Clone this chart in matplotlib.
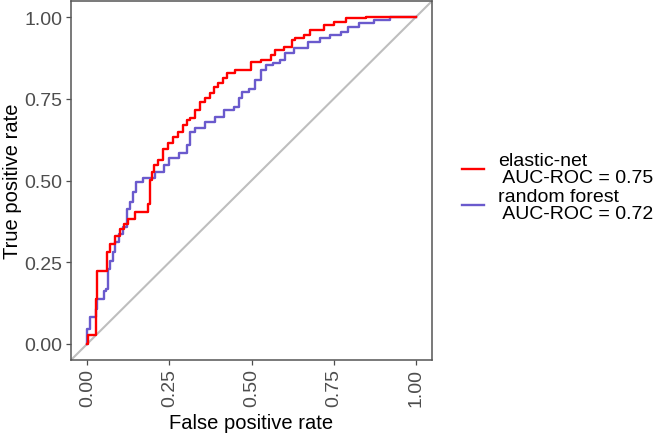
import matplotlib
matplotlib.use("Agg")
import matplotlib.pyplot as plt

plt.rcParams['font.family'] = ['Liberation Sans', 'DejaVu Sans']

# ROC curve vertices
fpr_enet = [0.000, 0.003, 0.024, 0.027, 0.030, 0.058, 0.061, 0.076, 0.091, 0.107,
            0.116, 0.131, 0.162, 0.177, 0.192, 0.192, 0.201, 0.207, 0.223, 0.238,
            0.253, 0.268, 0.284, 0.299, 0.305, 0.320, 0.335, 0.351, 0.366, 0.381,
            0.390, 0.405, 0.421, 0.427, 0.442, 0.457, 0.491, 0.503, 0.552, 0.564,
            0.579, 0.619, 0.625, 0.643, 0.674, 0.680, 0.710, 0.732, 0.771, 0.802,
            0.893, 1.000]
tpr_enet = [0.000, 0.027, 0.027, 0.137, 0.223, 0.223, 0.280, 0.305, 0.329, 0.351,
            0.366, 0.381, 0.402, 0.405, 0.427, 0.503, 0.527, 0.549, 0.564, 0.595,
            0.616, 0.634, 0.649, 0.671, 0.686, 0.692, 0.716, 0.741, 0.753, 0.768,
            0.787, 0.799, 0.814, 0.829, 0.829, 0.838, 0.838, 0.863, 0.869, 0.884,
            0.899, 0.909, 0.930, 0.936, 0.945, 0.960, 0.960, 0.976, 0.985, 0.997,
            1.000, 1.000]

fpr_rf = [0.000, 0.000, 0.006, 0.009, 0.024, 0.027, 0.034, 0.046, 0.055, 0.061,
          0.064, 0.076, 0.079, 0.091, 0.101, 0.116, 0.125, 0.137, 0.140, 0.155,
          0.183, 0.229, 0.238, 0.262, 0.299, 0.308, 0.320, 0.335, 0.381, 0.399,
          0.436, 0.457, 0.466, 0.476, 0.506, 0.518, 0.537, 0.552, 0.579, 0.595,
          0.610, 0.649, 0.695, 0.720, 0.756, 0.787, 0.802, 0.854, 0.893, 0.954,
          1.000]
tpr_rf = [0.000, 0.046, 0.046, 0.082, 0.082, 0.107, 0.137, 0.137, 0.162, 0.168,
          0.229, 0.253, 0.280, 0.311, 0.335, 0.357, 0.412, 0.433, 0.466, 0.494,
          0.509, 0.527, 0.549, 0.570, 0.585, 0.610, 0.649, 0.662, 0.680, 0.695,
          0.716, 0.726, 0.753, 0.771, 0.780, 0.808, 0.838, 0.854, 0.860, 0.869,
          0.890, 0.905, 0.924, 0.936, 0.945, 0.954, 0.970, 0.982, 0.991, 1.000,
          1.000]

labels = ["elastic-net\n AUC-ROC = 0.75", "random forest\n AUC-ROC = 0.72"]
ticks = [0.00, 0.25, 0.50, 0.75, 1.00]
tick_labels = ["0.00", "0.25", "0.50", "0.75", "1.00"]

fig = plt.figure(figsize=(6.56, 4.35), dpi=100)
ax = fig.add_axes([71 / 656, 1 - 361 / 435, 361 / 656, 359 / 435])

# reference diagonal
ax.axline((0, 0), slope=1, color='#bebebe', lw=1.5, zorder=1)

ax.plot(fpr_enet, tpr_enet, drawstyle='steps-mid', color='#ff0000', lw=1.7,
        label=labels[0], zorder=3)
ax.plot(fpr_rf, tpr_rf, drawstyle='steps-mid', color='#6a5acd', lw=1.7,
        label=labels[1], zorder=2)

ax.set_xlim(-0.05, 1.05)
ax.set_ylim(-0.05, 1.05)
ax.set_xticks(ticks)
ax.set_xticklabels(tick_labels, rotation=90)
ax.set_yticks(ticks)
ax.set_yticklabels(tick_labels)
ax.tick_params(length=3.6, width=0.9, color='#4d4d4d', labelcolor='#4d4d4d',
               labelsize=14, pad=2.5)

for s in ax.spines.values():
    s.set_color('#555555')
    s.set_linewidth(1.1)

ax.set_xlabel("False positive rate", fontsize=14.5, labelpad=5)
ax.set_ylabel("True positive rate", fontsize=14.5, labelpad=2)

leg = ax.legend(loc='center left', bbox_to_anchor=(462 / 656, 1 - 188 / 435),
                bbox_transform=fig.transFigure, frameon=False, fontsize=14,
                handlelength=1.15, handletextpad=0.7, borderpad=0,
                borderaxespad=0, labelspacing=0.1)
for t in leg.get_texts():
    t.set_linespacing(1.0)

fig.savefig("out.png", dpi=100)
